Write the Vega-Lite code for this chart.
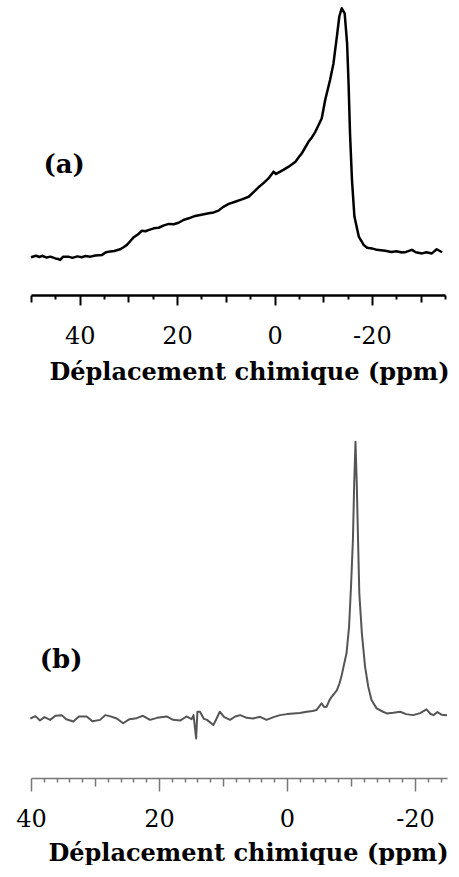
{
  "$schema": "https://vega.github.io/schema/vega-lite/v6.json",
  "background": "white",
  "padding": {"left": 15, "top": 0, "right": 0, "bottom": 0},
  "bounds": "flush",
  "spacing": 145,
  "config": {"view": {"stroke": null}, "font": "DejaVu Serif"},
  "datasets": {
    "a": [
      {"ppm": 50.0, "v": 12.8}, {"ppm": 49.0, "v": 13.3}, {"ppm": 48.2, "v": 12.9}, {"ppm": 47.7, "v": 13.3},
      {"ppm": 46.8, "v": 12.7}, {"ppm": 46.0, "v": 13.0}, {"ppm": 45.0, "v": 12.4}, {"ppm": 44.4, "v": 12.2},
      {"ppm": 44.0, "v": 11.9}, {"ppm": 43.4, "v": 13.0}, {"ppm": 42.3, "v": 13.0}, {"ppm": 41.5, "v": 12.6},
      {"ppm": 40.5, "v": 13.1}, {"ppm": 39.6, "v": 12.8}, {"ppm": 38.9, "v": 13.2}, {"ppm": 37.8, "v": 13.0},
      {"ppm": 36.8, "v": 13.4}, {"ppm": 35.4, "v": 13.6}, {"ppm": 34.7, "v": 14.4}, {"ppm": 34.1, "v": 14.7},
      {"ppm": 32.9, "v": 14.9}, {"ppm": 31.7, "v": 15.5}, {"ppm": 31.0, "v": 16.2}, {"ppm": 30.3, "v": 17.0},
      {"ppm": 29.6, "v": 18.3}, {"ppm": 28.9, "v": 19.6}, {"ppm": 28.0, "v": 20.6}, {"ppm": 27.2, "v": 21.8},
      {"ppm": 26.5, "v": 21.6}, {"ppm": 25.9, "v": 22.0}, {"ppm": 24.8, "v": 22.6}, {"ppm": 23.8, "v": 22.8},
      {"ppm": 22.7, "v": 23.6}, {"ppm": 21.7, "v": 24.1}, {"ppm": 20.7, "v": 24.0}, {"ppm": 19.7, "v": 24.5},
      {"ppm": 18.6, "v": 25.5}, {"ppm": 17.6, "v": 26.0}, {"ppm": 16.3, "v": 26.8}, {"ppm": 15.0, "v": 27.2},
      {"ppm": 13.5, "v": 27.7}, {"ppm": 12.5, "v": 28.0}, {"ppm": 11.5, "v": 28.6}, {"ppm": 10.5, "v": 29.9},
      {"ppm": 9.4, "v": 30.9}, {"ppm": 8.1, "v": 31.6}, {"ppm": 6.7, "v": 32.4}, {"ppm": 5.3, "v": 33.3},
      {"ppm": 4.3, "v": 34.9}, {"ppm": 3.3, "v": 36.5}, {"ppm": 2.2, "v": 38.0}, {"ppm": 1.2, "v": 39.6},
      {"ppm": 0.2, "v": 41.8}, {"ppm": -0.3, "v": 41.0}, {"ppm": -0.8, "v": 41.5}, {"ppm": -1.9, "v": 42.5},
      {"ppm": -2.9, "v": 43.5}, {"ppm": -3.6, "v": 44.3}, {"ppm": -4.3, "v": 45.2}, {"ppm": -5.0, "v": 46.8},
      {"ppm": -5.6, "v": 48.0}, {"ppm": -6.3, "v": 50.0}, {"ppm": -7.0, "v": 52.0}, {"ppm": -7.7, "v": 53.5},
      {"ppm": -8.4, "v": 55.4}, {"ppm": -9.1, "v": 57.8}, {"ppm": -9.7, "v": 59.9}, {"ppm": -10.4, "v": 66.1},
      {"ppm": -11.4, "v": 72.9}, {"ppm": -12.1, "v": 78.5}, {"ppm": -12.8, "v": 87.6}, {"ppm": -13.3, "v": 94.4},
      {"ppm": -13.8, "v": 97.2}, {"ppm": -14.4, "v": 95.5}, {"ppm": -14.9, "v": 85.3}, {"ppm": -15.2, "v": 71.8},
      {"ppm": -15.5, "v": 54.8}, {"ppm": -15.9, "v": 39.0}, {"ppm": -16.4, "v": 26.6}, {"ppm": -17.3, "v": 19.8},
      {"ppm": -18.3, "v": 17.0}, {"ppm": -19.0, "v": 16.0}, {"ppm": -20.0, "v": 15.8}, {"ppm": -21.0, "v": 15.3},
      {"ppm": -22.7, "v": 15.0}, {"ppm": -24.0, "v": 14.6}, {"ppm": -25.0, "v": 14.8}, {"ppm": -26.2, "v": 14.4},
      {"ppm": -27.0, "v": 14.6}, {"ppm": -28.2, "v": 15.3}, {"ppm": -29.0, "v": 14.5}, {"ppm": -30.3, "v": 14.1},
      {"ppm": -31.2, "v": 14.5}, {"ppm": -32.3, "v": 14.1}, {"ppm": -33.3, "v": 15.5}, {"ppm": -34.4, "v": 14.5}
    ],
    "b": [
      {"ppm": 40.1, "v": 17.6}, {"ppm": 39.3, "v": 18.3}, {"ppm": 38.6, "v": 17.0}, {"ppm": 37.9, "v": 18.0},
      {"ppm": 37.0, "v": 17.2}, {"ppm": 36.2, "v": 18.4}, {"ppm": 35.2, "v": 18.6}, {"ppm": 34.5, "v": 17.4},
      {"ppm": 33.4, "v": 16.7}, {"ppm": 32.5, "v": 18.2}, {"ppm": 31.3, "v": 18.2}, {"ppm": 30.4, "v": 16.8},
      {"ppm": 29.2, "v": 17.2}, {"ppm": 28.4, "v": 18.6}, {"ppm": 27.7, "v": 18.3}, {"ppm": 26.6, "v": 17.6},
      {"ppm": 25.6, "v": 16.2}, {"ppm": 24.6, "v": 17.4}, {"ppm": 23.5, "v": 17.7}, {"ppm": 22.5, "v": 18.4},
      {"ppm": 21.4, "v": 17.2}, {"ppm": 20.3, "v": 17.8}, {"ppm": 18.8, "v": 18.2}, {"ppm": 17.8, "v": 17.2},
      {"ppm": 16.7, "v": 17.0}, {"ppm": 15.7, "v": 18.2}, {"ppm": 14.9, "v": 17.4}, {"ppm": 14.6, "v": 18.6},
      {"ppm": 14.2, "v": 11.7}, {"ppm": 14.0, "v": 19.6}, {"ppm": 13.6, "v": 19.6}, {"ppm": 13.0, "v": 17.5},
      {"ppm": 12.5, "v": 17.2}, {"ppm": 11.5, "v": 15.7}, {"ppm": 11.0, "v": 17.6}, {"ppm": 10.5, "v": 19.6},
      {"ppm": 9.8, "v": 18.0}, {"ppm": 8.9, "v": 17.2}, {"ppm": 8.1, "v": 18.2}, {"ppm": 7.3, "v": 18.6},
      {"ppm": 6.3, "v": 17.8}, {"ppm": 5.3, "v": 17.6}, {"ppm": 4.2, "v": 18.1}, {"ppm": 3.2, "v": 17.2},
      {"ppm": 2.1, "v": 18.0}, {"ppm": 1.1, "v": 18.6}, {"ppm": 0.0, "v": 18.9}, {"ppm": -1.0, "v": 19.1},
      {"ppm": -2.0, "v": 19.2}, {"ppm": -3.1, "v": 19.6}, {"ppm": -4.0, "v": 19.8}, {"ppm": -4.6, "v": 20.1},
      {"ppm": -5.4, "v": 22.1}, {"ppm": -5.8, "v": 21.0}, {"ppm": -6.2, "v": 21.1}, {"ppm": -6.6, "v": 22.9},
      {"ppm": -7.0, "v": 24.1}, {"ppm": -7.4, "v": 25.0}, {"ppm": -7.8, "v": 26.0}, {"ppm": -8.2, "v": 28.0},
      {"ppm": -8.5, "v": 30.0}, {"ppm": -8.9, "v": 33.5}, {"ppm": -9.3, "v": 36.9}, {"ppm": -9.7, "v": 44.8},
      {"ppm": -10.0, "v": 56.6}, {"ppm": -10.3, "v": 70.4}, {"ppm": -10.5, "v": 87.2}, {"ppm": -10.7, "v": 99.5},
      {"ppm": -10.9, "v": 87.2}, {"ppm": -11.1, "v": 70.4}, {"ppm": -11.3, "v": 54.6}, {"ppm": -11.7, "v": 42.8},
      {"ppm": -12.2, "v": 32.9}, {"ppm": -12.7, "v": 27.0}, {"ppm": -13.2, "v": 23.1}, {"ppm": -14.0, "v": 20.6},
      {"ppm": -15.0, "v": 19.6}, {"ppm": -15.6, "v": 19.1}, {"ppm": -16.6, "v": 19.3}, {"ppm": -17.7, "v": 19.6},
      {"ppm": -18.6, "v": 18.9}, {"ppm": -19.7, "v": 18.6}, {"ppm": -20.8, "v": 19.2}, {"ppm": -21.8, "v": 20.3},
      {"ppm": -22.4, "v": 19.0}, {"ppm": -22.9, "v": 18.6}, {"ppm": -23.5, "v": 19.5}, {"ppm": -24.2, "v": 18.7},
      {"ppm": -25.0, "v": 18.6}
    ]
  },
  "vconcat": [
    {
      "width": 414,
      "height": 295,
      "resolve": {"axis": {"x": "independent"}},
      "layer": [
        {
          "data": {"name": "a"},
          "mark": {"type": "line", "color": "black", "strokeWidth": 2.5, "strokeJoin": "round"},
          "encoding": {
            "x": {
              "field": "ppm", "type": "quantitative",
              "scale": {"domain": [50, -35], "nice": false, "zero": false},
              "axis": {
                "orient": "bottom",
                "title": "Déplacement chimique (ppm)",
                "values": [40, 20, 0, -20],
                "labelExpr": "'' + datum.value",
                "labelFont": "DejaVu Serif", "labelFontSize": 24, "labelColor": "black",
                "labelFlush": false, "labelOverlap": false, "labelPadding": 19,
                "tickSize": 10, "tickColor": "black", "tickWidth": 2,
                "domainColor": "black", "domainWidth": 2.5,
                "titleFont": "DejaVu Serif", "titleFontSize": 24, "titleFontWeight": "bold", "titleColor": "black",
                "titlePadding": 12, "titleX": 218, "grid": false
              }
            },
            "y": {"field": "v", "type": "quantitative", "scale": {"domain": [0, 100]}, "axis": null}
          }
        },
        {
          "data": {"values": [{"label": "(a)", "ppm": 43.2, "v": 44.1}]},
          "mark": {"type": "text", "font": "DejaVu Serif", "fontWeight": "bold", "fontSize": 26, "color": "black", "baseline": "middle", "align": "center"},
          "encoding": {
            "x": {
              "field": "ppm", "type": "quantitative",
              "axis": {
                "orient": "bottom",
                "title": null, "labels": false, "domain": false, "grid": false,
                "values": [50, 45, 35, 30, 25, 15, 10, 5, -5, -10, -15, -25, -30, -35],
                "tickSize": {"condition": {"test": "datum.value % 10 === 0", "value": 7}, "value": 4},
                "tickColor": "black", "tickWidth": 2
              }
            },
            "y": {"field": "v", "type": "quantitative"},
            "text": {"field": "label"}
          }
        }
      ]
    },
    {
      "width": 416,
      "height": 338,
      "resolve": {"axis": {"x": "independent"}},
      "layer": [
        {
          "data": {"name": "b"},
          "mark": {"type": "line", "color": "#555555", "strokeWidth": 2, "strokeJoin": "round"},
          "encoding": {
            "x": {
              "field": "ppm", "type": "quantitative",
              "scale": {"domain": [40, -25], "nice": false, "zero": false},
              "axis": {
                "orient": "bottom",
                "title": "Déplacement chimique (ppm)",
                "values": [40, 20, 0, -20],
                "labelExpr": "'' + datum.value",
                "labelFont": "DejaVu Serif", "labelFontSize": 24, "labelColor": "black",
                "labelFlush": false, "labelOverlap": false, "labelPadding": 16,
                "tickSize": 13, "tickColor": "#777777", "tickWidth": 1.5,
                "domainColor": "#777777", "domainWidth": 1.5,
                "titleFont": "DejaVu Serif", "titleFontSize": 24, "titleFontWeight": "bold", "titleColor": "black",
                "titlePadding": 10, "titleX": 217, "grid": false
              }
            },
            "y": {"field": "v", "type": "quantitative", "scale": {"domain": [0, 100]}, "axis": null}
          }
        },
        {
          "data": {"values": [{"label": "(b)", "ppm": 35.3, "v": 34.9}]},
          "mark": {"type": "text", "font": "DejaVu Serif", "fontWeight": "bold", "fontSize": 26, "color": "black", "baseline": "middle", "align": "center"},
          "encoding": {
            "x": {
              "field": "ppm", "type": "quantitative",
              "axis": {
                "orient": "bottom",
                "title": null, "labels": false, "domain": false, "grid": false,
                "values": [38, 36, 34, 32, 30, 28, 26, 24, 22, 18, 16, 14, 12, 10, 8, 6, 4, 2, -2, -4, -6, -8, -10, -12, -14, -16, -18, -22, -24],
                "tickSize": {"condition": {"test": "datum.value % 10 === 0", "value": 8}, "value": 4},
                "tickColor": "#777777", "tickWidth": 1.5
              }
            },
            "y": {"field": "v", "type": "quantitative"},
            "text": {"field": "label"}
          }
        }
      ]
    }
  ]
}
